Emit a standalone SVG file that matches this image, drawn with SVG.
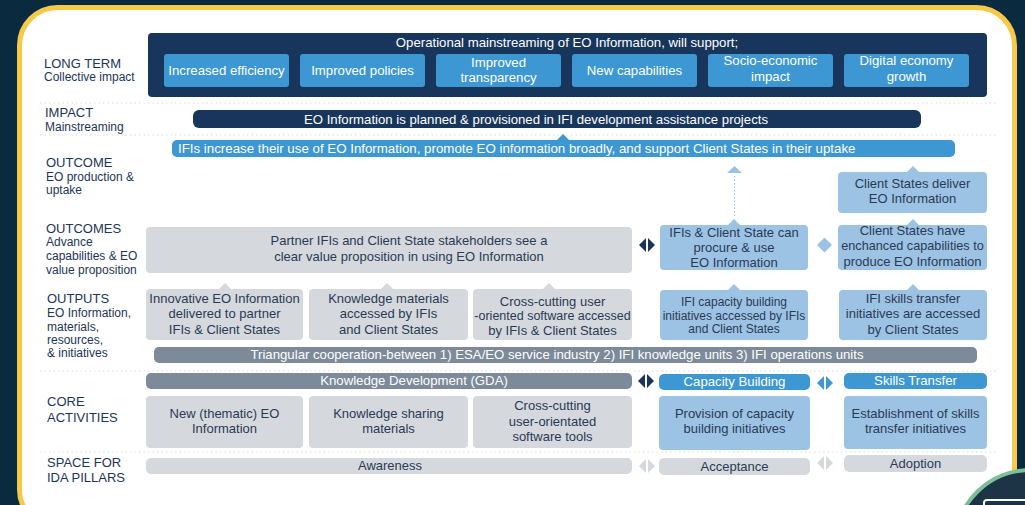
<svg xmlns="http://www.w3.org/2000/svg" width="1025" height="505" viewBox="0 0 1025 505">
<style>
text{font-family:"Liberation Sans",Arial,sans-serif}
.lh{font-size:13px;fill:#1d3557}
.ls{font-size:12px;fill:#1d3557}
.tw{font-size:13.2px;fill:#ffffff;text-anchor:middle}
.td{font-size:13px;fill:#2a3a55;text-anchor:middle}
.tds{font-size:12px;fill:#2a3a55;text-anchor:middle}
.navy{fill:#18365c}
.mid{fill:#3d97d3}
.lite{fill:#9cc3e4}
.gray{fill:#d5d9dd}
.slate{fill:#7c8a99}
.sep{stroke:#d8dde2;stroke-width:1;stroke-dasharray:1.5 3;fill:none}
</style>
<rect x="0" y="0" width="1025" height="505" fill="#0a2b3f"/>
<rect x="19.5" y="7.5" width="995" height="520" rx="38" fill="#ffffff" stroke="#f7c948" stroke-width="5"/>
<circle cx="1030" cy="545" r="75" fill="#1d3447" stroke="#7dbf98" stroke-width="4"/>
<rect x="984" y="500" width="60" height="20" rx="3" fill="none" stroke="#ffffff" stroke-width="2"/>

<g id="separators">
<line class="sep" x1="40" y1="103" x2="997" y2="103"/>
<line class="sep" x1="40" y1="135" x2="997" y2="135"/>
<line class="sep" x1="40" y1="371" x2="997" y2="371"/>
<line class="sep" x1="40" y1="452" x2="997" y2="452"/>
</g>

<g id="row-labels">
<text class="lh" x="44" y="68">LONG TERM</text>
<text class="ls" x="44" y="81">Collective impact</text>
<text class="lh" x="45" y="117">IMPACT</text>
<text class="ls" x="45" y="131">Mainstreaming</text>
<text class="lh" x="46" y="167">OUTCOME</text>
<text class="ls" x="46" y="181">EO production &amp;</text>
<text class="ls" x="46" y="194">uptake</text>
<text class="lh" x="46" y="233">OUTCOMES</text>
<text class="ls" x="46" y="246">Advance</text>
<text class="ls" x="46" y="260">capabilities &amp; EO</text>
<text class="ls" x="46" y="274">value proposition</text>
<text class="lh" x="47" y="303">OUTPUTS</text>
<text class="ls" x="47" y="317">EO Information,</text>
<text class="ls" x="47" y="331">materials,</text>
<text class="ls" x="47" y="344">resources,</text>
<text class="ls" x="47" y="357">&amp; initiatives</text>
<text class="lh" x="47" y="406">CORE</text>
<text class="lh" x="47" y="422">ACTIVITIES</text>
<text class="lh" x="47" y="467">SPACE FOR</text>
<text class="lh" x="47" y="482">IDA PILLARS</text>
</g>

<g id="long-term">
<rect class="navy" x="148" y="33" width="839" height="64" rx="4"/>
<text class="tw" x="567" y="47">Operational mainstreaming of EO Information, will support;</text>
</g>
<g id="lt-efficiency"><rect class="mid" x="164" y="54" width="125" height="33" rx="3"/><text class="tw" x="226.5" y="75">Increased efficiency</text></g>
<g id="lt-policies"><rect class="mid" x="300" y="54" width="125" height="33" rx="3"/><text class="tw" x="362.5" y="75">Improved policies</text></g>
<g id="lt-transparency"><rect class="mid" x="436" y="54" width="125" height="33" rx="3"/><text class="tw" x="498.5" y="67">Improved</text><text class="tw" x="498.5" y="82">transparency</text></g>
<g id="lt-capabilities"><rect class="mid" x="572" y="54" width="125" height="33" rx="3"/><text class="tw" x="634.5" y="75">New capabilities</text></g>
<g id="lt-socio"><rect class="mid" x="708" y="54" width="125" height="33" rx="3"/><text class="tw" x="770.5" y="65">Socio-economic</text><text class="tw" x="770.5" y="81">impact</text></g>
<g id="lt-digital"><rect class="mid" x="844" y="54" width="125" height="33" rx="3"/><text class="tw" x="906.5" y="65">Digital economy</text><text class="tw" x="906.5" y="81">growth</text></g>

<g id="impact">
<rect class="navy" x="193" y="110" width="728" height="18" rx="6"/>
<text class="tw" x="536" y="124">EO Information is planned &amp; provisioned in IFI development assistance projects</text>
</g>

<g id="outcome">
<rect class="mid" x="172" y="140" width="783" height="17" rx="5"/>
<text class="tw" x="178" y="153" style="text-anchor:start;font-size:13.3px">IFIs increase their use of EO Information, promote EO information broadly, and support Client States in their uptake</text>
</g>

<g id="oc-partner">
<rect class="gray" x="146" y="227" width="486" height="46" rx="4"/>
<text class="td" x="409" y="245">Partner IFIs and Client State stakeholders see a</text>
<text class="td" x="409" y="261">clear value proposition in using EO Information</text>
</g>
<g id="oc-procure">
<rect class="lite" x="660" y="225" width="148" height="45" rx="4"/>
<text class="td" x="734" y="237">IFIs &amp; Client State can</text>
<text class="td" x="734" y="252">procure &amp; use</text>
<text class="td" x="734" y="267">EO Information</text>
</g>
<g id="oc-deliver">
<rect class="lite" x="838" y="172" width="149" height="41" rx="4"/>
<text class="td" x="912.5" y="188">Client States deliver</text>
<text class="td" x="912.5" y="203">EO Information</text>
</g>
<g id="oc-enhanced">
<rect class="lite" x="838" y="225" width="149" height="45" rx="4"/>
<text class="td" x="912.5" y="235">Client States have</text>
<text class="td" x="912.5" y="250" style="font-size:12.7px">enchanced capabilities to</text>
<text class="td" x="912.5" y="266">produce EO Information</text>
</g>

<g id="out-innovative">
<rect class="gray" x="146" y="289" width="157" height="51" rx="4"/>
<text class="td" x="224.5" y="303">Innovative EO Information</text>
<text class="td" x="224.5" y="318">delivered to partner</text>
<text class="td" x="224.5" y="334">IFIs &amp; Client States</text>
</g>
<g id="out-knowledge">
<rect class="gray" x="309" y="289" width="159" height="51" rx="4"/>
<text class="td" x="388.5" y="303">Knowledge materials</text>
<text class="td" x="388.5" y="318">accessed by IFIs</text>
<text class="td" x="388.5" y="334">and Client States</text>
</g>
<g id="out-software">
<rect class="gray" x="473" y="289" width="159" height="51" rx="4"/>
<text class="td" x="552.5" y="306">Cross-cutting user</text>
<text class="td" x="552.5" y="320" style="font-size:12.5px">-oriented software accessed</text>
<text class="td" x="552.5" y="335">by IFIs &amp; Client States</text>
</g>
<g id="out-capacity">
<rect class="lite" x="660" y="290" width="148" height="50" rx="4"/>
<text class="tds" x="734" y="306">IFI capacity building</text>
<text class="tds" x="734" y="320">initiatives accessed by IFIs</text>
<text class="tds" x="734" y="333">and Client States</text>
</g>
<g id="out-skills">
<rect class="lite" x="839" y="290" width="148" height="50" rx="4"/>
<text class="td" x="913" y="303">IFI skills transfer</text>
<text class="td" x="913" y="318">initiatives are accessed</text>
<text class="td" x="913" y="334">by Client States</text>
</g>

<g id="triangular">
<rect class="slate" x="154" y="347" width="823" height="16" rx="5"/>
<text class="tw" x="557" y="359">Triangular cooperation-between 1) ESA/EO service industry 2) IFI knowledge units 3) IFI operations units</text>
</g>

<g id="ca-gda">
<rect class="slate" x="146" y="373" width="486" height="16" rx="5"/>
<text class="tw" x="414" y="385">Knowledge Development (GDA)</text>
</g>
<g id="ca-capacity">
<rect class="mid" x="659" y="374" width="151" height="16" rx="5"/>
<text class="tw" x="734.5" y="386">Capacity Building</text>
</g>
<g id="ca-skills">
<rect class="mid" x="844" y="373" width="143" height="16" rx="5"/>
<text class="tw" x="915.5" y="385">Skills Transfer</text>
</g>
<g id="ca-thematic">
<rect class="gray" x="146" y="396" width="157" height="52" rx="4"/>
<text class="td" x="224.5" y="418">New (thematic) EO</text>
<text class="td" x="224.5" y="433">Information</text>
</g>
<g id="ca-sharing">
<rect class="gray" x="309" y="396" width="159" height="52" rx="4"/>
<text class="td" x="388.5" y="418">Knowledge sharing</text>
<text class="td" x="388.5" y="433">materials</text>
</g>
<g id="ca-tools">
<rect class="gray" x="473" y="396" width="159" height="52" rx="4"/>
<text class="td" x="552.5" y="410">Cross-cutting</text>
<text class="td" x="552.5" y="426">user-orientated</text>
<text class="td" x="552.5" y="441">software tools</text>
</g>
<g id="ca-provision">
<rect class="lite" x="659" y="396" width="151" height="54" rx="4"/>
<text class="td" x="734.5" y="418">Provision of capacity</text>
<text class="td" x="734.5" y="433">building initiatives</text>
</g>
<g id="ca-establish">
<rect class="lite" x="844" y="396" width="143" height="53" rx="4"/>
<text class="td" x="915.5" y="418">Establishment of skills</text>
<text class="td" x="915.5" y="433">transfer initiatives</text>
</g>

<g id="sp-awareness">
<rect class="gray" x="146" y="458" width="486" height="16" rx="5"/>
<text class="td" x="390" y="470">Awareness</text>
</g>
<g id="sp-acceptance">
<rect class="gray" x="659" y="458" width="151" height="17" rx="5"/>
<text class="td" x="734.5" y="471">Acceptance</text>
</g>
<g id="sp-adoption">
<rect class="gray" x="844" y="455" width="143" height="17" rx="5"/>
<text class="td" x="915.5" y="468">Adoption</text>
</g>

<g id="connectors">
<polygon points="557,140 563,134 569,140" fill="#3d97d3"/>
<polygon points="727,173 734.5,166 742,173" fill="#9cc3e4"/>
<line x1="734.5" y1="176" x2="734.5" y2="218" stroke="#9cc3e4" stroke-width="1" stroke-dasharray="1.5 2"/>
<polygon points="728,225 734,219 740,225" fill="#9cc3e4"/>
<polygon points="907,172 913,166 919,172" fill="#9cc3e4"/>
<polygon points="907,225 913,219 919,225" fill="#9cc3e4"/>
<polygon points="907,290 913,284 919,290" fill="#9cc3e4"/>
<polygon points="728,290 734,284 740,290" fill="#9cc3e4"/>
<polygon points="219,289 225,283 231,289" fill="#d5d9dd"/>
<polygon points="381,289 387,283 393,289" fill="#d5d9dd"/>
<polygon points="543,289 549,283 555,289" fill="#d5d9dd"/>
<polygon points="817,245 824.5,237.5 832,245 824.5,252.5" fill="#9cc3e4"/>
<polygon points="646,238 646,252 639,245" fill="#18365c"/>
<polygon points="648,238 655,245 648,252" fill="#18365c"/>
<polygon points="645,374 645,388 638,381" fill="#18365c"/>
<polygon points="647,374 654,381 647,388" fill="#18365c"/>
<polygon points="824,376 824,390 817,383" fill="#3d97d3"/>
<polygon points="826,376 833,383 826,390" fill="#3d97d3"/>
<polygon points="646,459 646,473 639,466" fill="#d5d9dd"/>
<polygon points="648,459 655,466 648,473" fill="#d5d9dd"/>
<polygon points="824,456 824,470 817,463" fill="#d5d9dd"/>
<polygon points="826,456 833,463 826,470" fill="#d5d9dd"/>
</g>
</svg>
